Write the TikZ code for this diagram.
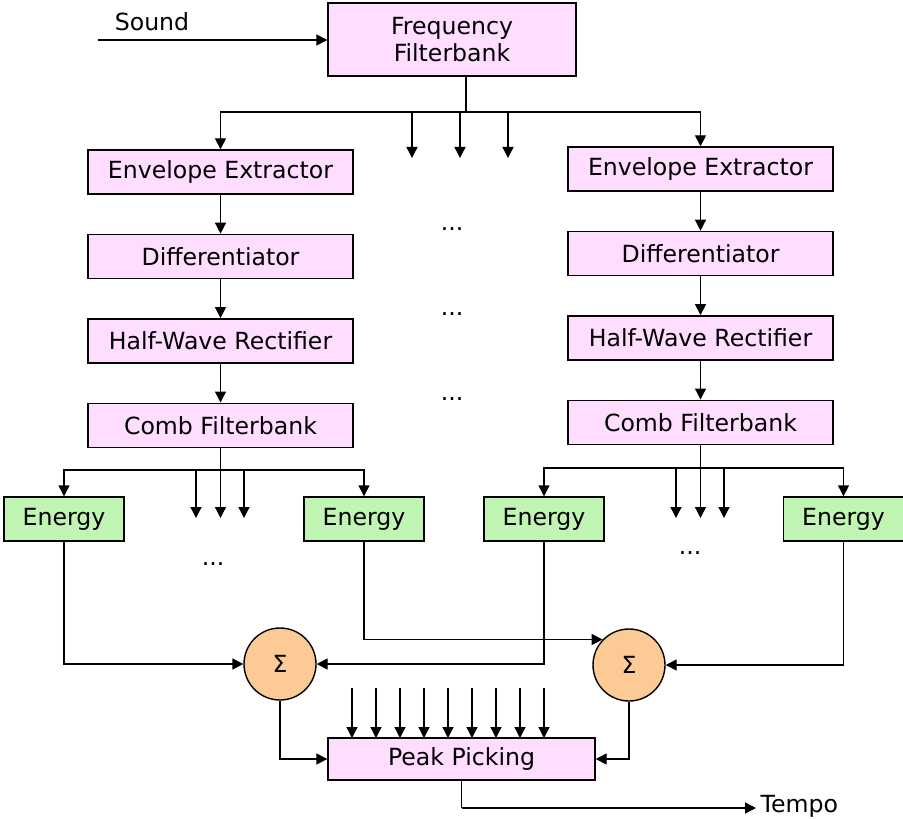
\documentclass[tikz,border=0pt]{standalone}
\usepackage{fontspec}
\setmainfont{DejaVu Sans}
\usetikzlibrary{arrows.meta,positioning,calc}
\definecolor{pinkbox}{HTML}{FFDDFF}
\definecolor{greenbox}{HTML}{C0F5B4}
\definecolor{orangebox}{HTML}{FCCA94}
\begin{document}
\begin{tikzpicture}[x=0.5pt,y=-0.5pt,node distance=19.5pt,>={Triangle[length=5.5pt,width=5.5pt]},
 every path/.style={line width=0.7pt},
 every node/.style={font=\fontsize{11.8}{13.8}\selectfont},
 proc/.style={draw,fill=pinkbox,align=center,minimum width=132.5pt,minimum height=22pt,inner sep=1pt},
 ebox/.style={draw,fill=greenbox,minimum width=60pt,minimum height=22pt,inner sep=1pt},
 sumnode/.style={draw,circle,fill=orangebox,minimum size=36pt,inner sep=0pt}]
\useasboundingbox (0,0) rectangle (903,818);
\node[proc,minimum width=124pt,minimum height=36.5pt] (freq) at (452,39.5) {Frequency\\Filterbank};
\node (sound) at (152,22) {Sound};
\coordinate (soundin) at (98,40);
\node[proc] (env1) at (220.5,172) {Envelope Extractor};
\node[proc,below=of env1] (dif1) {Differentiator};
\node[proc,below=of dif1] (hwr1) {Half-Wave Rectifier};
\node[proc,below=of hwr1] (comb1) {Comb Filterbank};
\node[proc] (env2) at (700.5,169) {Envelope Extractor};
\node[proc,below=of env2] (dif2) {Differentiator};
\node[proc,below=of dif2] (hwr2) {Half-Wave Rectifier};
\node[proc,below=of hwr2] (comb2) {Comb Filterbank};
\node (dotsa) at (452,229) {...};
\node (dotsb) at (452,314) {...};
\node (dotsc) at (452,399) {...};
\node[ebox] (en1) at (64,519) {Energy};
\node[ebox] (en2) at (364,519) {Energy};
\node[ebox] (en3) at (544,519) {Energy};
\node[ebox] (en4) at (843.5,519) {Energy};
\node (dotsd) at (213,564) {...};
\node (dotse) at (690,553) {...};
\node[sumnode] (sum1) at (280,664) {Σ};
\node[sumnode] (sum2) at (629,665) {Σ};
\node[proc,minimum width=133.5pt,minimum height=21pt] (peak) at (461.5,759) {Peak Picking};
\node[anchor=west,inner sep=2pt] (tempo) at (756,806) {Tempo};
\coordinate (fsplit) at (466,112);
\coordinate (csplit1) at (220.5,470);
\coordinate (csplit2) at (700.5,468);
\coordinate (pout) at (461.5,808);
\draw[->] (soundin) -- (freq.west |- soundin);
\draw (freq.south -| fsplit) -- (fsplit);
\draw[->] (fsplit) -| (env1);
\draw[->] (fsplit) -| (env2);
\foreach \x in {412,460,508} \draw[->] (\x,112) -- (\x,158);
\draw[->] (env1) -- (dif1);
\draw[->] (dif1) -- (hwr1);
\draw[->] (hwr1) -- (comb1);
\draw[->] (env2) -- (dif2);
\draw[->] (dif2) -- (hwr2);
\draw[->] (hwr2) -- (comb2);
\draw (comb1) -- (csplit1);
\draw[->] (csplit1) -| (en1);
\draw[->] (csplit1) -| (en2);
\foreach \x in {196,220.5,244} \draw[->] (\x,470) -- (\x,518);
\draw (comb2) -- (csplit2);
\draw[->] (csplit2) -| (en3);
\draw[->] (csplit2) -| (en4);
\foreach \x in {676,700.5,724} \draw[->] (\x,468) -- (\x,518);
\draw[->] (en1) |- (sum1);
\draw[->] (en2) |- (sum2.136);
\draw[->] (en3) |- (sum1);
\draw[->] (en4) |- (sum2);
\draw[->] (sum1) |- (peak);
\draw[->] (sum2) |- (peak);
\foreach \x in {352,376,...,544} \draw[->] (\x,688) -- (\x,738);
\draw (peak) -- (pout);
\draw[->] (pout) -- (tempo.west |- pout);
\end{tikzpicture}
\end{document}
